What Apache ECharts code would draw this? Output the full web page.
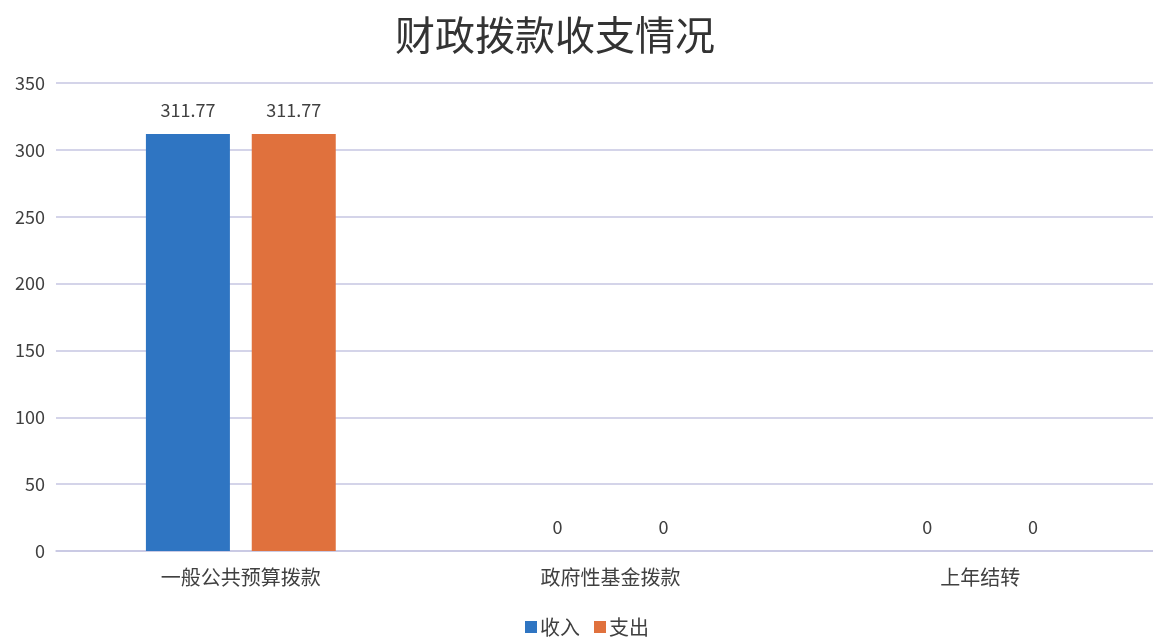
<!DOCTYPE html>
<html><head><meta charset="utf-8">
<script src="https://cdn.jsdelivr.net/npm/echarts@6/dist/echarts.min.js"></script>
<style>html,body{margin:0;padding:0;background:#fff;overflow:hidden;width:1153px;height:639px}#c{width:1170px;height:639px}</style>
</head><body><div id="c"></div>
<script>
var categories = ['一般公共预算拨款', '政府性基金拨款', '上年结转'];
var incomeValues = [311.77, 0, 0];
var expenseValues = [311.77, 0, 0];
var seriesNames = ['收入', '支出'];

var chart = echarts.init(document.getElementById('c'));
var font = '"Noto Sans CJK SC", "Noto Sans", sans-serif';
var labelCfg = {show: true, position: 'top', distance: 15, color: '#404040', fontSize: 18, fontFamily: font};
chart.setOption({
  animation: false,
  textStyle: {fontFamily: font},
  title: {text: '财政拨款收支情况', left: 390, top: 10,
    textStyle: {fontSize: 40, fontWeight: 'normal', color: '#333', fontFamily: font}},
  legend: {data: seriesNames, left: 520, top: 612, itemWidth: 12, itemHeight: 12, itemGap: 14,
    icon: 'rect', textStyle: {fontSize: 20, color: '#404040', fontFamily: font, padding: [0,0,0,-2]}},
  grid: {left: 56, top: 83, width: 1109, height: 468, containLabel: false},
  xAxis: {type: 'category', data: categories,
    axisLine: {lineStyle: {color: '#c6c6e2', width: 1.5}}, axisTick: {show: false},
    axisLabel: {fontSize: 20, color: '#404040', margin: 16, fontFamily: font}},
  yAxis: {type: 'value', min: 0, max: 350, interval: 50,
    axisLine: {show: false}, axisTick: {show: false},
    splitLine: {lineStyle: {color: '#c6c6e2', width: 1.5}},
    axisLabel: {fontSize: 18, color: '#404040', margin: 11, fontFamily: font}},
  series: [
    {name: seriesNames[0], type: 'bar', data: incomeValues, barWidth: 84, barGap: '26%',
      itemStyle: {color: '#2f75c2'}, label: labelCfg},
    {name: seriesNames[1], type: 'bar', data: expenseValues, barWidth: 84, barGap: '26%',
      itemStyle: {color: '#e0713d'}, label: labelCfg}
  ]
});
</script></body></html>
